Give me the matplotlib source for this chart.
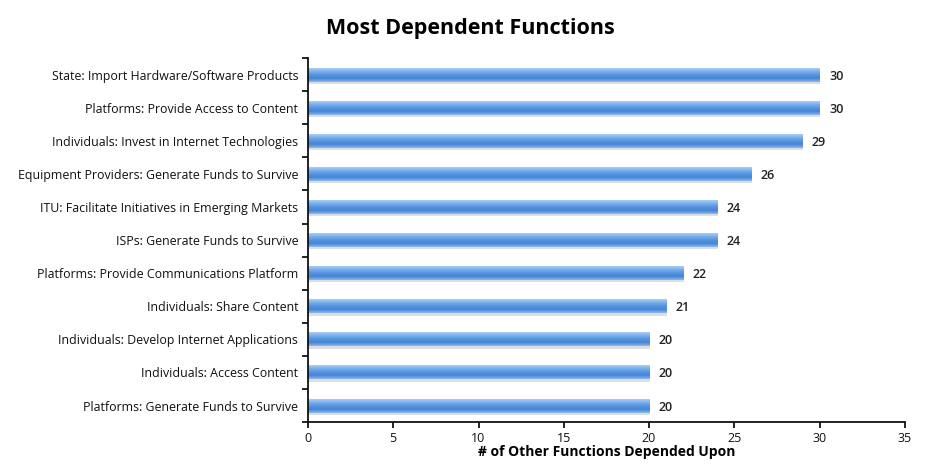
import numpy as np
import matplotlib.pyplot as plt
from matplotlib.colors import LinearSegmentedColormap

functions = [
    'State: Import Hardware/Software Products',
    'Platforms: Provide Access to Content',
    'Individuals: Invest in Internet Technologies',
    'Equipment Providers: Generate Funds to Survive',
    'ITU: Facilitate Initiatives in Emerging Markets',
    'ISPs: Generate Funds to Survive',
    'Platforms: Provide Communications Platform',
    'Individuals: Share Content',
    'Individuals: Develop Internet Applications',
    'Individuals: Access Content',
    'Platforms: Generate Funds to Survive',
]
counts = [30, 30, 29, 26, 24, 24, 22, 21, 20, 20, 20]
x_ticks = [0, 5, 10, 15, 20, 25, 30, 35]

plt.rcParams['font.family'] = ['Open Sans', 'DejaVu Sans']

fig = plt.figure(figsize=(9.29, 4.69), dpi=100)
ax = fig.add_axes([0.3315, 0.1, 0.6425, 0.776])

n = len(functions)
ypos = np.arange(n)[::-1]
h = 0.42

# vertical gradient for the glossy bars (bottom -> top)
grad_cmap = LinearSegmentedColormap.from_list(
    'bar', ['#8ab9ee', '#4585d6', '#5593de', '#78aeec', '#a8cff6'])
grad = np.linspace(0, 1, 64).reshape(-1, 1)

for y, v in zip(ypos, counts):
    # soft shadow under each bar
    ax.barh(y - 0.07, v + 0.05, height=h, color='#c4c4c4', alpha=0.55,
            edgecolor='none', zorder=1)
    ax.imshow(grad, cmap=grad_cmap, aspect='auto',
              extent=(0, v, y + h / 2, y - h / 2), zorder=2,
              interpolation='bilinear')
    ax.text(v + 0.55, y, str(v), va='center_baseline', ha='left', fontsize=9,
            fontweight='semibold', color='#222222')

ax.set_xlim(0, 35)
ax.set_ylim(-0.5, n - 0.5)
ax.set_xticks(x_ticks)
ax.set_xticklabels([str(t) for t in x_ticks], fontsize=9, color='#111111')
ax.set_yticks(ypos)
ax.set_yticklabels(functions, fontsize=8.9, color='#111111')
ax.set_yticks(np.arange(-0.5, n, 1), minor=True)
ax.tick_params(axis='y', which='major', length=0, pad=7)
ax.tick_params(axis='y', which='minor', length=4, width=1.2, direction='out')
ax.tick_params(axis='x', length=4, width=1.2, direction='out', pad=3)

for s in ['top', 'right']:
    ax.spines[s].set_visible(False)
for s in ['left', 'bottom']:
    ax.spines[s].set_linewidth(1.3)
    ax.spines[s].set_color('#111111')

ax.set_xlabel('# of Other Functions Depended Upon', fontsize=10,
              fontweight='bold', labelpad=0)
fig.suptitle('Most Dependent Functions', fontsize=15.5, fontweight='bold',
             x=0.506, y=0.962)

fig.savefig('out.png', dpi=100)
